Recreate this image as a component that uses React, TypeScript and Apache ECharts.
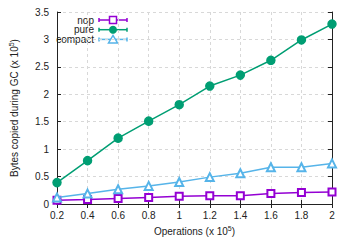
import React, { useEffect, useRef } from "react";
import * as echarts from "echarts";

const xValues = [0.2, 0.4, 0.6, 0.8, 1.0, 1.2, 1.4, 1.6, 1.8, 2.0];
const nopValues = [0.07, 0.08, 0.10, 0.12, 0.14, 0.15, 0.15, 0.19, 0.21, 0.22];
const pureValues = [0.39, 0.79, 1.20, 1.51, 1.81, 2.15, 2.35, 2.62, 2.99, 3.28];
const compactValues = [0.12, 0.19, 0.27, 0.33, 0.40, 0.49, 0.56, 0.67, 0.67, 0.74];
const seriesNames = ["nop", "pure", "compact"];

const COLORS = ["#9400d3", "#009e73", "#56b4e9"];
const SYMBOLS = ["emptyRect", "circle", "emptyTriangle"];
const SIZES = [7, 8, 8];
const FONT = "Liberation Sans, Arial, sans-serif";

export default function App() {
  const ref = useRef<HTMLDivElement>(null);
  useEffect(() => {
    document.body.style.margin = "0";
    const chart = echarts.init(ref.current!, null, { renderer: "svg" });
    const allValues = [nopValues, pureValues, compactValues];
    const series: any[] = allValues.map((vals, i) => ({
      type: "line",
      name: seriesNames[i],
      data: xValues.map((x, j) => [x, vals[j]]),
      symbol: SYMBOLS[i],
      symbolSize: SIZES[i],
      showAllSymbol: true,
      lineStyle: { color: COLORS[i], width: 1.5 },
      itemStyle: { color: COLORS[i], borderColor: COLORS[i], borderWidth: 1.5 },
      z: 3 + i,
    }));

    const legendGraphics: any[] = [];
    const rowY = [20, 29.7, 39.4];
    seriesNames.forEach((name, i) => {
      const y = rowY[i];
      legendGraphics.push({
        type: "text",
        x: 94,
        y,
        style: { text: name, font: `10px ${FONT}`, fill: "#222", align: "right", verticalAlign: "middle" },
      });
      legendGraphics.push({ type: "line", shape: { x1: 99, y1: y, x2: 127, y2: y }, style: { stroke: COLORS[i], lineWidth: 1.5 } });
      legendGraphics.push({ type: "line", shape: { x1: 99, y1: y - 2, x2: 99, y2: y + 2 }, style: { stroke: COLORS[i], lineWidth: 1.5 } });
      legendGraphics.push({ type: "line", shape: { x1: 127, y1: y - 2, x2: 127, y2: y + 2 }, style: { stroke: COLORS[i], lineWidth: 1.5 } });
      if (i === 0) {
        legendGraphics.push({ type: "rect", shape: { x: 109.5, y: y - 3.5, width: 7, height: 7 }, style: { fill: "#fff", stroke: COLORS[i], lineWidth: 1.5 } });
      } else if (i === 1) {
        legendGraphics.push({ type: "circle", shape: { cx: 113, cy: y, r: 4 }, style: { fill: COLORS[i] } });
      } else {
        legendGraphics.push({ type: "polygon", shape: { points: [[113, y - 4], [117.5, y + 3.5], [108.5, y + 3.5]] }, style: { fill: "#fff", stroke: COLORS[i], lineWidth: 1.5 } });
      }
    });

    const axisLabel = { color: "#222", fontSize: 10, fontFamily: FONT };
    const gridLine = { show: true, lineStyle: { color: "#d8d8d8", type: [3, 3], width: 1 } };
    const axisLine = { show: true, lineStyle: { color: "#222", width: 1 } };
    const tick = { show: true, inside: true, length: 4, lineStyle: { color: "#222" } };
    const richSup = {
      a: { fontSize: 10, fontFamily: FONT, color: "#222" },
      s: { fontSize: 7, fontFamily: FONT, color: "#222", padding: [0, 0, 6, 0] },
    };

    chart.setOption({
      animation: false,
      grid: { left: 48, right: 18, top: 12, bottom: 41, show: false },
      xAxis: [
        {
          type: "value",
          min: 0.2,
          max: 2,
          interval: 0.2,
          axisLine,
          axisTick: tick,
          axisLabel: { ...axisLabel, margin: 6 },
          splitLine: gridLine,
          name: "{a|Operations (x 10}{s|5}{a|)}",
          nameLocation: "middle",
          nameGap: 16,
          nameTextStyle: { rich: richSup },
        },
        {
          type: "value",
          position: "top",
          min: 0.2,
          max: 2,
          interval: 0.2,
          axisLine,
          axisTick: tick,
          axisLabel: { show: false },
          splitLine: { show: false },
        },
      ],
      yAxis: [
        {
          type: "value",
          min: 0,
          max: 3.5,
          interval: 0.5,
          axisLine,
          axisTick: tick,
          axisLabel: { ...axisLabel, margin: 8 },
          splitLine: gridLine,
          name: "{a|Bytes copied during GC (x 10}{s|5}{a|)}",
          nameLocation: "middle",
          nameGap: 36,
          nameRotate: 90,
          nameTextStyle: { rich: richSup },
        },
        {
          type: "value",
          position: "right",
          min: 0,
          max: 3.5,
          interval: 0.5,
          axisLine,
          axisTick: tick,
          axisLabel: { show: false },
          splitLine: { show: false },
        },
      ],
      series,
      graphic: legendGraphics,
    });
    return () => chart.dispose();
  }, []);
  return <div ref={ref} style={{ width: 350, height: 245 }} />;
}
